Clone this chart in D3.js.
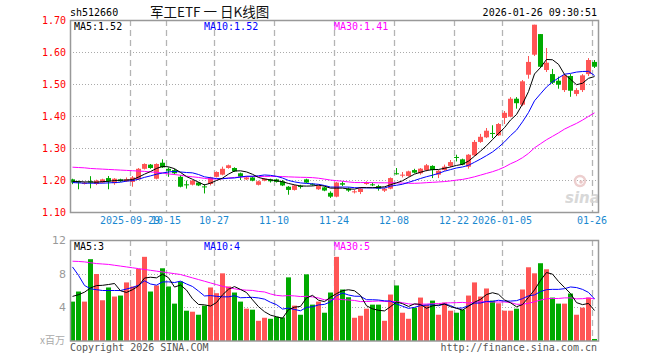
<!DOCTYPE html>
<html><head><meta charset="utf-8">
<script src="https://cdn.jsdelivr.net/npm/d3@7"></script>
<style>body{margin:0;background:#fff}svg{display:block}</style>
</head><body><svg id="c" width="660" height="360"></svg>
<script>
// ---------- data ----------
const dates = [
"2025-09-15","2025-09-16","2025-09-17","2025-09-18","2025-09-19","2025-09-22","2025-09-23","2025-09-24","2025-09-25","2025-09-26",
"2025-09-29","2025-09-30","2025-10-09","2025-10-10","2025-10-13","2025-10-14","2025-10-15","2025-10-16","2025-10-17","2025-10-20",
"2025-10-21","2025-10-22","2025-10-23","2025-10-24","2025-10-27","2025-10-28","2025-10-29","2025-10-30","2025-10-31","2025-11-03",
"2025-11-04","2025-11-05","2025-11-06","2025-11-07","2025-11-10","2025-11-11","2025-11-12","2025-11-13","2025-11-14","2025-11-17",
"2025-11-18","2025-11-19","2025-11-20","2025-11-21","2025-11-24","2025-11-25","2025-11-26","2025-11-27","2025-11-28","2025-12-01",
"2025-12-02","2025-12-03","2025-12-04","2025-12-05","2025-12-08","2025-12-09","2025-12-10","2025-12-11","2025-12-12","2025-12-15",
"2025-12-16","2025-12-17","2025-12-18","2025-12-19","2025-12-22","2025-12-23","2025-12-24","2025-12-25","2025-12-26","2025-12-29",
"2025-12-30","2025-12-31","2026-01-05","2026-01-06","2026-01-07","2026-01-08","2026-01-09","2026-01-12","2026-01-13","2026-01-14",
"2026-01-15","2026-01-16","2026-01-19","2026-01-20","2026-01-21","2026-01-22","2026-01-23","2026-01-26"];

const open = [1.202,1.195,1.189,1.196,1.1875,1.192,1.206,1.19,1.202,1.196,
1.194,1.202,1.235,1.248,1.204,1.254,1.235,1.231,1.21,1.1865,
1.1854,1.192,1.18,1.1875,1.21,1.2167,1.2375,1.2375,1.221,1.202,
1.208,1.185,1.198,1.202,1.202,1.196,1.179,1.169,1.182,1.202,
1.188,1.171,1.177,1.16,1.148,1.19,1.173,1.1625,1.1625,1.1885,
1.1865,1.181,1.1667,1.173,1.221,1.2146,1.2125,1.231,1.221,1.231,
1.244,1.2167,1.231,1.244,1.272,1.2646,1.2417,1.277,1.319,1.3334,
1.347,1.3397,1.394,1.398,1.454,1.4353,1.529,1.5916,1.656,1.5437,
1.531,1.5103,1.481,1.525,1.469,1.481,1.531,1.569];
const high = [1.204,1.198,1.194,1.212,1.201,1.204,1.2125,1.206,1.204,1.208,
1.2125,1.2375,1.252,1.25,1.252,1.2646,1.2395,1.235,1.2146,1.198,
1.2,1.194,1.1875,1.21,1.227,1.2417,1.248,1.2396,1.223,1.2125,
1.2125,1.198,1.206,1.204,1.204,1.2,1.181,1.185,1.185,1.204,
1.19,1.183,1.179,1.1646,1.194,1.196,1.177,1.169,1.177,1.196,
1.192,1.185,1.175,1.208,1.2375,1.225,1.229,1.235,1.2375,1.25,
1.246,1.231,1.248,1.2625,1.279,1.2667,1.281,1.325,1.344,1.3625,
1.371,1.378,1.4156,1.459,1.459,1.5125,1.5875,1.6853,1.656,1.6125,
1.547,1.523,1.531,1.531,1.487,1.531,1.581,1.575];
const low = [1.187,1.171,1.186,1.174,1.184,1.19,1.171,1.185,1.194,1.194,
1.179,1.2,1.233,1.235,1.202,1.2375,1.21,1.217,1.177,1.173,
1.183,1.181,1.158,1.183,1.208,1.2146,1.2354,1.225,1.2,1.2,
1.196,1.183,1.196,1.192,1.192,1.181,1.154,1.167,1.173,1.19,
1.182,1.169,1.165,1.144,1.146,1.181,1.163,1.158,1.156,1.185,
1.181,1.1667,1.1625,1.171,1.2167,1.208,1.2104,1.2208,1.2167,1.227,
1.206,1.206,1.229,1.2396,1.258,1.246,1.2354,1.275,1.316,1.331,
1.331,1.3375,1.375,1.396,1.4229,1.431,1.5166,1.5875,1.55,1.5375,
1.5,1.4853,1.475,1.46,1.462,1.475,1.525,1.55];
const close = [1.192,1.192,1.191,1.192,1.198,1.202,1.196,1.204,1.196,1.202,
1.208,1.235,1.25,1.2375,1.25,1.2395,1.229,1.221,1.179,1.1844,
1.198,1.183,1.178,1.208,1.225,1.235,1.246,1.227,1.2104,1.208,
1.198,1.196,1.204,1.196,1.194,1.183,1.169,1.183,1.178,1.192,
1.185,1.181,1.167,1.148,1.192,1.1854,1.167,1.1646,1.173,1.1906,
1.184,1.173,1.173,1.206,1.219,1.2167,1.227,1.223,1.2354,1.246,
1.231,1.229,1.2417,1.256,1.27,1.248,1.279,1.319,1.335,1.354,
1.344,1.375,1.41,1.454,1.44,1.5084,1.569,1.6853,1.554,1.5666,
1.504,1.4978,1.527,1.479,1.481,1.527,1.575,1.554];
const volume = [4.68,5.88,4.68,9.72,7.96,4.84,6.36,5.28,5.4,6.96,
6.48,8.56,10.0,5.88,6.6,8.64,6.48,4.44,7.08,3.6,
3.48,3.12,4.2,6.36,5.68,8.04,6.48,5.76,4.68,3.84,
3.72,2.4,2.76,2.64,2.88,2.8,7.56,4.2,3.12,7.92,
4.32,4.68,3.36,5.76,10.0,6.12,5.2,2.76,3.0,3.84,
4.32,4.32,2.4,5.52,6.6,3.36,2.64,3.96,5.16,4.32,
4.8,3.12,4.56,3.6,3.36,3.72,5.4,6.96,5.28,6.24,
4.8,4.48,3.6,3.6,3.84,6.12,8.76,8.04,9.24,8.52,
5.16,4.44,4.44,5.64,3.12,3.96,5.16,0.24];

// moving-average values at the left edge (window not yet full)
const ma5PriceLead  = [1.196,1.195,1.194,1.194];
const ma10PriceLead = [1.192,1.191,1.190,1.190,1.190,1.190,1.191,1.192,1.193];
const ma30PriceLead = [1.240,1.239,1.238,1.236,1.235,1.234,1.233,1.232,1.231,1.230,
  1.229,1.228,1.227,1.225,1.224,1.222,1.219,1.217,1.215,1.212,1.210,1.208,1.205,1.203,1.203,1.204,1.206,1.208,1.209];
const ma5VolLead  = [5.3,5.5,5.8,6.3];
const ma10VolLead = [8.8,7.8,6.6,6.2,6.1,6.0,6.0,6.0,6.0];
const ma30VolLead = [9.48,9.45,9.4,9.3,9.2,9.15,9.1,9.0,8.9,8.8,8.7,8.6,8.5,8.4,8.3,8.2,8.1,8.0,7.9,7.7,
  7.5,7.3,7.1,6.9,6.7,6.5,6.35,6.2,6.1];

const tickDates  = ["2025-09-29","2025-10-15","2025-10-27","2025-11-10","2025-11-24","2025-12-08","2025-12-22","2026-01-05","2026-01-26"];
const tickLabels = ["2025-09-29","10-15","10-27","11-10","11-24","12-08","12-22","2026-01-05","01-26"];
const priceTicks = [1.10,1.20,1.30,1.40,1.50,1.60,1.70];
const volTicks = [4,8,12];
const priceLegend = ["MA5:1.52","MA10:1.52","MA30:1.41"];
const volLegend = ["MA5:3","MA10:4","MA30:5"];
const maColors = ["#000000","#0000ff","#ff00ff"];

// ---------- helpers ----------
function movingAvg(vals, n, lead){
  return vals.map((v,i)=> i < n-1 ? lead[i] : d3.mean(vals.slice(i-n+1,i+1)));
}
const mono = "'DejaVu Sans Mono', 'Liberation Mono', monospace";
const RED = "#ff5555", GREEN = "#00aa00";

const svg = d3.select("#c");
const L = 70, R = 598;
const x = d3.scaleBand().domain(dates).range([L, R]).padding(0);
const step = x.step();
const y = d3.scaleLinear().domain([1.10,1.70]).range([212,20]);
const yv = d3.scaleLinear().domain([0,12]).range([341,240]);

// ---------- title ----------
svg.append("text").attr("x",70).attr("y",16).attr("font-family",mono).attr("font-size",10).text("sh512660");
svg.append("text").attr("x",150).attr("y",17).attr("font-family","'Noto Sans CJK SC', sans-serif").attr("font-size",13.5).attr("fill","#111").text("军工ETF 一 日K线图");
svg.append("text").attr("x",597).attr("y",16).attr("text-anchor","end").attr("font-family",mono).attr("font-size",10).text("2026-01-26 09:30:51");

// ---------- grids ----------
function panel(top, bottom, yScale, hTicks){
  const g = svg.append("g");
  g.selectAll("line.h").data(hTicks).join("line")
    .attr("x1",L).attr("x2",R).attr("y1",d=>Math.round(yScale(d))+0.5).attr("y2",d=>Math.round(yScale(d))+0.5)
    .attr("stroke","#aaa").attr("stroke-dasharray","1,2");
  g.selectAll("line.v").data(tickDates).join("line")
    .attr("x1",d=>x(d)+0.5).attr("x2",d=>x(d)+0.5).attr("y1",top).attr("y2",bottom)
    .attr("stroke","#b4b4b4").attr("stroke-width",1.3).attr("stroke-dasharray","6,4");
  return g;
}
panel(20,212,y,[1.20,1.30,1.40,1.50,1.60]);
panel(240,341,yv,[4,8]);

// ---------- watermark ----------
const wm = svg.append("g").attr("opacity",0.9);
wm.append("circle").attr("cx",580).attr("cy",181).attr("r",5).attr("fill","none").attr("stroke","#eccaca").attr("stroke-width",2.5);
wm.append("circle").attr("cx",581).attr("cy",182).attr("r",1.8).attr("fill","#e8c0c0");
wm.append("text").attr("x",565).attr("y",203).attr("font-family","'DejaVu Sans', sans-serif").attr("font-style","italic").attr("font-weight","bold")
  .attr("font-size",15).attr("fill","#d4d4d4").text("sina");

// ---------- candles ----------
const candles = svg.append("g");
dates.forEach((d,i)=>{
  const up = close[i] >= open[i];
  const col = up ? RED : GREEN;
  const cx = x(d) + 2.5;
  candles.append("line").attr("x1",cx).attr("x2",cx).attr("y1",y(high[i])).attr("y2",y(low[i])).attr("stroke",col).attr("stroke-width",1);
  const y0 = y(Math.max(open[i],close[i])), y1 = y(Math.min(open[i],close[i]));
  candles.append("rect").attr("x",x(d)).attr("width",step-1).attr("y",y0).attr("height",Math.max(1,y1-y0)).attr("fill",col);
});

// ---------- volume bars ----------
svg.append("g").selectAll("rect").data(dates).join("rect")
  .attr("x",d=>x(d)).attr("width",step-1)
  .attr("y",(d,i)=>yv(volume[i])).attr("height",(d,i)=>yv(0)-yv(volume[i]))
  .attr("fill",(d,i)=> close[i]>=open[i] ? RED : GREEN);

// ---------- MA lines ----------
function drawMA(vals, yScale, color){
  svg.append("path").datum(vals)
    .attr("d", d3.line().x((v,i)=>x(dates[i])+2.5).y(v=>yScale(v)))
    .attr("fill","none").attr("stroke",color).attr("stroke-width",1);
}
drawMA(movingAvg(close,30,ma30PriceLead), y, maColors[2]);
drawMA(movingAvg(close,10,ma10PriceLead), y, maColors[1]);
drawMA(movingAvg(close,5,ma5PriceLead), y, maColors[0]);
drawMA(movingAvg(volume,30,ma30VolLead), yv, maColors[2]);
drawMA(movingAvg(volume,10,ma10VolLead), yv, maColors[1]);
drawMA(movingAvg(volume,5,ma5VolLead), yv, maColors[0]);

// ---------- frames ----------
svg.append("rect").attr("x",L+0.5).attr("y",20.5).attr("width",R-L).attr("height",192).attr("fill","none").attr("stroke","#999").attr("stroke-width",1.5);
svg.append("rect").attr("x",L+0.5).attr("y",240.5).attr("width",R-L).attr("height",100.5).attr("fill","none").attr("stroke","#999").attr("stroke-width",1.5);

// ---------- axes ----------
const ya = svg.append("g").attr("transform",`translate(${L},0)`)
  .call(d3.axisLeft(y).tickValues(priceTicks).tickFormat(d3.format(".2f")).tickSize(0).tickPadding(4));
ya.select(".domain").remove();
ya.selectAll("text").attr("fill","#ff0000").attr("font-family",mono).attr("font-size",10);

const va = svg.append("g").attr("transform",`translate(${L},0)`)
  .call(d3.axisLeft(yv).tickValues(volTicks).tickFormat(d3.format("d")).tickSize(0).tickPadding(4));
va.select(".domain").remove();
va.selectAll("text").attr("fill","#999").attr("font-family","'DejaVu Sans', sans-serif").attr("font-size",11);
svg.append("text").attr("x",65).attr("y",344).attr("text-anchor","end").attr("fill","#aaa")
  .attr("font-family","'Noto Sans CJK SC', sans-serif").attr("font-size",10).text("x百万");

const labelOf = d3.scaleOrdinal().domain(tickDates).range(tickLabels);
const xa = svg.append("g").attr("transform",`translate(${-step/2},212)`)
  .call(d3.axisBottom(x).tickValues(tickDates).tickFormat(d=>labelOf(d)).tickSize(0).tickPadding(5));
xa.select(".domain").remove();
xa.selectAll("text").attr("fill","#1a88d0").attr("font-family",mono).attr("font-size",10);

// ---------- legends ----------
[0,1,2].forEach(k=>{
  svg.append("text").attr("x",74+130*k).attr("y",30).attr("fill",maColors[k]).attr("font-family",mono).attr("font-size",10).text(priceLegend[k]);
  svg.append("text").attr("x",74+130*k).attr("y",250).attr("fill",maColors[k]).attr("font-family",mono).attr("font-size",10).text(volLegend[k]);
});

// ---------- footer ----------
svg.append("text").attr("x",70).attr("y",351).attr("fill","#555").attr("font-family",mono).attr("font-size",10).text("Copyright 2026 SINA.COM");
svg.append("text").attr("x",597).attr("y",351).attr("text-anchor","end").attr("fill","#555").attr("font-family",mono).attr("font-size",10).text("http://finance.sina.com.cn");
</script></body></html>
